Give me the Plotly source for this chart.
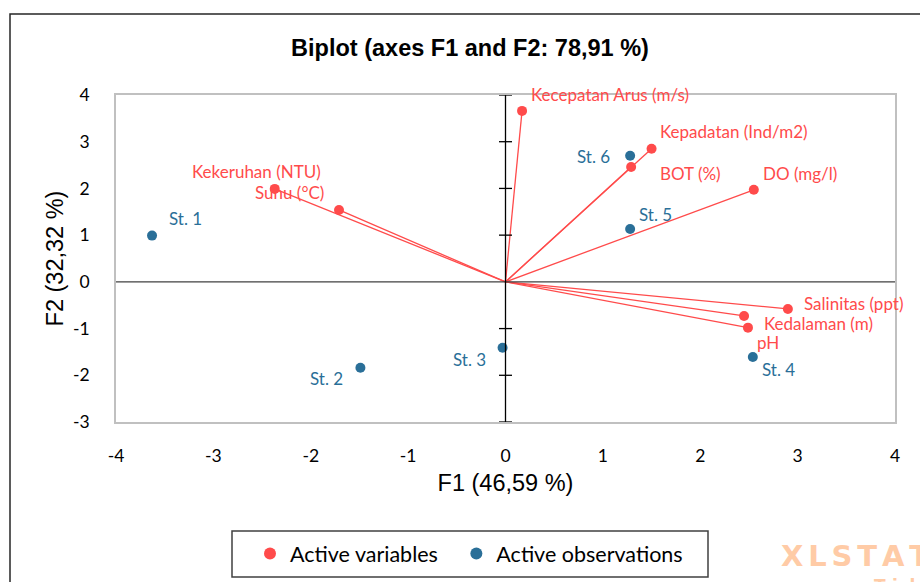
import plotly.graph_objects as go

# ---- data ----
var_names = ["Kecepatan Arus (m/s)", "Kepadatan (Ind/m2)", "BOT (%)", "DO (mg/l)",
             "Kekeruhan (NTU)", "Suhu (°C)", "Salinitas (ppt)", "Kedalaman (m)", "pH"]
var_f1 = [0.17, 1.50, 1.29, 2.55, -2.37, -1.71, 2.90, 2.45, 2.49]
var_f2 = [3.66, 2.85, 2.46, 1.97, 1.99, 1.54, -0.58, -0.73, -0.98]

obs_names = ["St. 1", "St. 2", "St. 3", "St. 4", "St. 5", "St. 6"]
obs_f1 = [-3.63, -1.49, -0.03, 2.54, 1.28, 1.28]
obs_f2 = [0.99, -1.84, -1.41, -1.61, 1.13, 2.70]

x_ticks = [-4, -3, -2, -1, 0, 1, 2, 3, 4]
x_tick_text = ["-4", "-3", "-2", "-1", "0", "1", "2", "3", "4"]
y_ticks = [-3, -2, -1, 0, 1, 2, 3, 4]
y_tick_text = ["-3", "-2", "-1", "0", "1", "2", "3", "4"]

# ---- styles ----
RED = "#FF4B4B"
BLUE = "#2A6F98"
FONT = "Lato"
# label placement: (xanchor, xshift px, yshift px)
var_lab = [("left", 7, 16), ("left", 6, 17), ("left", 27, -7), ("left", 7, 16),
           ("right", 48, 17), ("right", -13, 17), ("left", 14, 5), ("left", 18, -8),
           ("left", 7, -15)]
obs_lab = [("left", 15, 17), ("right", -15, -11), ("right", -15, -12),
           ("left", 7, -12), ("left", 7, 15), ("right", -18, -1)]

fig = go.Figure()

# vectors from origin
lx, ly = [], []
for a, b in zip(var_f1, var_f2):
    lx += [0, a, None]
    ly += [0, b, None]
fig.add_trace(go.Scatter(x=lx, y=ly, mode="lines", line=dict(color=RED, width=1.3),
                         showlegend=False, hoverinfo="skip"))

fig.add_trace(go.Scatter(x=var_f1, y=var_f2, mode="markers",
                         name="Active variables\u2002\u2009",
                         marker=dict(color=RED, size=10), text=var_names, cliponaxis=False))
fig.add_trace(go.Scatter(x=obs_f1, y=obs_f2, mode="markers", name="Active observations",
                         marker=dict(color=BLUE, size=10), text=obs_names, cliponaxis=False))

ann = []
for n, a, b, (xa, xs, ys) in zip(var_names, var_f1, var_f2, var_lab):
    ann.append(dict(x=a, y=b, text=n, showarrow=False, xanchor=xa, yanchor="middle",
                    xshift=xs, yshift=ys, font=dict(family=FONT, size=17, color=RED)))
for n, a, b, (xa, xs, ys) in zip(obs_names, obs_f1, obs_f2, obs_lab):
    ann.append(dict(x=a, y=b, text=n, showarrow=False, xanchor=xa, yanchor="middle",
                    xshift=xs, yshift=ys, font=dict(family=FONT, size=17, color=BLUE)))

# watermark
SP = "\u2006"
ann.append(dict(xref="paper", yref="paper", x=(779 - 116) / 779, y=(422 - 556) / 327,
                xanchor="left", yanchor="middle", showarrow=False,
                text="<b>" + SP.join("XLSTAT") + "</b>",
                font=dict(family="DejaVu Sans", size=29, color="#FFCBA6")))
ann.append(dict(xref="paper", yref="paper", x=(872 - 116) / 779, y=(422 - 586) / 327,
                xanchor="left", yanchor="middle", showarrow=False, text="<b>Trial</b>",
                font=dict(family="DejaVu Sans", size=17, color="#FFCBA6")))

shapes = []
# horizontal zero axis
shapes.append(dict(type="line", xref="paper", yref="y", x0=0, x1=1, y0=0, y1=0,
                   line=dict(color="#404040", width=1.3)))
# vertical zero axis
shapes.append(dict(type="line", xref="x", yref="paper", x0=0, x1=0, y0=0, y1=1,
                   line=dict(color="#000000", width=1.3)))
# crossing ticks on vertical axis
for t in y_ticks:
    if t == 0:
        continue
    shapes.append(dict(type="line", xref="x", yref="y", xsizemode="pixel", xanchor=0,
                       x0=-6.5, x1=6.5, y0=t, y1=t, line=dict(color="#000000", width=1.3)))
# outer chart border
shapes.append(dict(type="rect", xref="paper", yref="paper",
                   x0=(10 - 116) / 779, x1=(930 - 116) / 779,
                   y0=(422 - 600) / 327, y1=(422 - 14) / 327,
                   line=dict(color="#262626", width=1.5), layer="below"))
# legend box
shapes.append(dict(type="rect", xref="paper", yref="paper",
                   x0=(232 - 116) / 779, x1=(708 - 116) / 779,
                   y0=(422 - 577) / 327, y1=(422 - 531) / 327,
                   line=dict(color="#404040", width=1.5), layer="below"))

fig.update_layout(
    width=920, height=582,
    margin=dict(l=116, r=25, t=95, b=160, autoexpand=False),
    paper_bgcolor="white", plot_bgcolor="white",
    title=dict(text="<b>Biplot (axes F1 and F2: 78,91 %)</b>", xref="container",
               x=470 / 920, xanchor="center", y=1 - 48 / 582, yanchor="middle",
               font=dict(family="Liberation Sans", size=23.5, color="#000000")),
    xaxis=dict(range=[-4, 4], tickvals=x_ticks, ticktext=x_tick_text, showgrid=False,
               zeroline=False, showline=True, linecolor="#C0C0C0", linewidth=1.5,
               mirror=True, ticks="", ticklabelstandoff=17, automargin=False,
               tickfont=dict(family=FONT, size=17.5, color="#000000"),
               title=dict(text="F1 (46,59 %)", standoff=10,
                          font=dict(family="Liberation Sans", size=23.5, color="#000000"))),
    yaxis=dict(range=[-3, 4], tickvals=y_ticks, ticktext=y_tick_text, showgrid=False,
               zeroline=False, showline=True, linecolor="#C0C0C0", linewidth=1.5,
               mirror=True, ticks="", ticklabelstandoff=21, automargin=False,
               tickfont=dict(family=FONT, size=17.5, color="#000000"),
               title=dict(text="F2 (32,32 %)", standoff=3,
                          font=dict(family="Liberation Sans", size=23.5, color="#000000"))),
    legend=dict(orientation="h", x=(250 - 116) / 779, xanchor="left",
                y=(422 - 533) / 327, yanchor="top",
                borderwidth=0, bgcolor="rgba(0,0,0,0)",
                font=dict(family=FONT, size=21.5, color="#000000"),
                itemsizing="constant", itemwidth=30),
    annotations=ann, shapes=shapes, showlegend=True,
)

fig.write_html("out.html", config={"displayModeBar": False},
               post_script="document.body.style.margin='0px';")
